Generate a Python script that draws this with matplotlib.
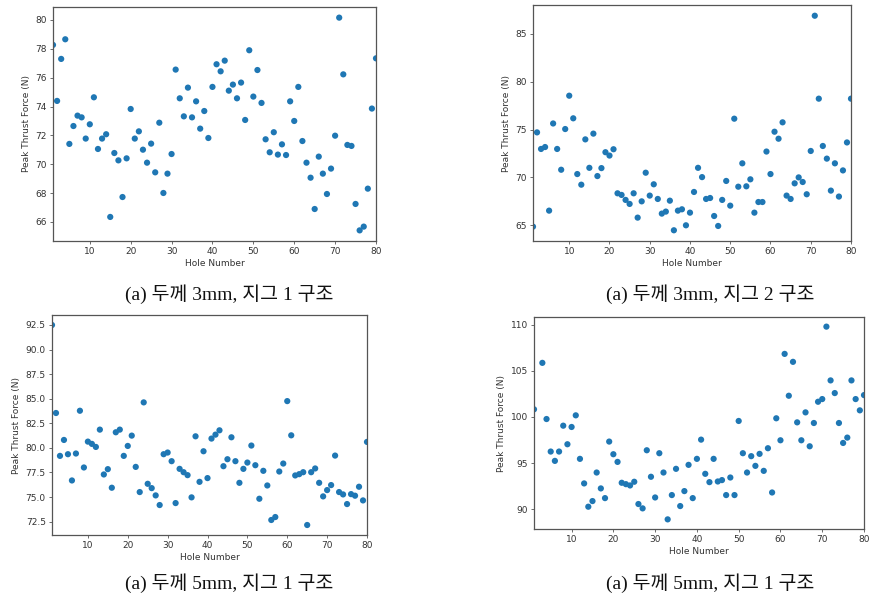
import numpy as np
import matplotlib
matplotlib.use("Agg")
import matplotlib.pyplot as plt

# ---------------- data ----------------
holes = list(range(1, 81))

force_3mm_jig1 = [
    78.27, 74.39, 77.30, 78.66, 71.41, 72.65, 73.37, 73.25, 71.78, 72.77,
    74.64, 71.06, 71.78, 72.08, 66.35, 70.78, 70.27, 67.73, 70.41, 73.83,
    71.78, 72.28, 71.01, 70.11, 71.43, 69.44, 72.88, 68.01, 69.35, 70.71,
    76.56, 74.57, 73.32, 75.31, 73.25, 74.36, 72.47, 73.69, 71.82, 75.36,
    76.93, 76.44, 77.18, 75.10, 75.52, 74.57, 75.66, 73.07, 77.90, 74.69,
    76.53, 74.25, 71.73, 70.83, 72.22, 70.67, 71.38, 70.64, 74.36, 73.00,
    75.36, 71.61, 70.11, 69.07, 66.90, 70.53, 69.35, 67.94, 69.70, 71.98,
    80.16, 76.23, 71.34, 71.27, 67.25, 65.42, 65.68, 68.31, 73.86, 77.34,
]

force_3mm_jig2 = [
    64.86, 74.70, 72.97, 73.17, 66.53, 75.63, 72.97, 70.80, 75.05, 78.53,
    76.17, 70.35, 69.24, 73.97, 71.00, 74.57, 70.14, 70.97, 72.63, 72.28,
    72.94, 68.34, 68.17, 67.65, 67.23, 68.34, 65.80, 67.50, 70.49, 68.10,
    69.28, 67.75, 66.22, 66.43, 67.57, 64.48, 66.53, 66.67, 65.00, 66.32,
    68.48, 71.00, 70.03, 67.75, 67.85, 65.97, 64.93, 67.65, 69.63, 67.05,
    76.13, 69.03, 71.47, 69.07, 69.80, 66.32, 67.43, 67.43, 72.70, 70.35,
    74.77, 74.04, 75.75, 68.10, 67.75, 69.38, 70.00, 69.52, 68.24, 72.76,
    86.88, 78.22, 73.28, 71.96, 68.62, 71.47, 68.00, 70.73, 73.65, 78.22,
]

force_5mm_jig1_a = [
    92.50, 83.55, 79.19, 80.81, 79.36, 76.69, 79.43, 83.78, 78.01, 80.64,
    80.41, 80.10, 81.86, 77.30, 77.84, 75.95, 81.59, 81.86, 79.19, 80.20,
    81.25, 78.07, 75.51, 84.63, 76.35, 75.91, 75.17, 74.19, 79.36, 79.53,
    78.65, 74.39, 77.87, 77.53, 77.23, 74.97, 81.18, 76.55, 79.66, 76.93,
    80.95, 81.35, 81.79, 78.14, 78.85, 81.08, 78.65, 76.45, 77.87, 78.51,
    80.24, 78.24, 74.83, 77.67, 76.18, 72.67, 72.97, 77.60, 78.41, 84.76,
    81.28, 77.20, 77.33, 77.53, 72.16, 77.53, 77.91, 76.45, 75.07, 75.71,
    76.22, 79.22, 75.51, 75.27, 74.29, 75.30, 75.14, 76.05, 74.66, 80.61,
]

force_5mm_jig1_b = [
    100.83, np.nan, 105.86, 99.78, 96.26, 95.25, 96.26, 99.06, 97.05, 98.92,
    100.18, 95.47, 92.81, 90.29, 90.90, 93.99, 92.27, 91.22, 97.34, 95.97,
    95.14, 92.88, 92.73, 92.59, 92.99, 90.58, 90.11, 96.40, 93.53, 91.29,
    96.08, 93.99, 88.92, 91.55, 94.39, 90.36, 91.98, 94.82, 91.22, 95.47,
    97.55, 93.85, 92.95, 95.47, 93.02, 93.17, 91.55, 93.45, 91.55, 99.57,
    96.08, 93.99, 95.76, 94.71, 96.01, 94.17, 96.62, 91.83, 99.86, 97.48,
    106.83, 102.30, 105.97, 99.42, 97.48, 100.50, 96.83, 99.35, 101.65, 101.94,
    109.78, 103.96, 102.59, 99.35, 97.19, 97.77, 103.96, 101.94, 100.72, 102.37,
]

x_ticks = [10, 20, 30, 40, 50, 60, 70, 80]
y_ticks_1 = [66, 68, 70, 72, 74, 76, 78, 80]
y_ticks_2 = [65, 70, 75, 80, 85]
y_ticks_3 = [72.5, 75.0, 77.5, 80.0, 82.5, 85.0, 87.5, 90.0, 92.5]
y_ticks_4 = [90, 95, 100, 105, 110]

captions = [
    "(a) 두께 3mm, 지그 1 구조",
    "(a) 두께 3mm, 지그 2 구조",
    "(a) 두께 5mm, 지그 1 구조",
    "(a) 두께 5mm, 지그 1 구조",
]

x_label = "Hole Number"
y_label = "Peak Thrust Force (N)"

# ---------------- figure ----------------
W, H = 880, 600
fig = plt.figure(figsize=(W / 100, H / 100), dpi=100)

# axes boxes in pixels: left, right, top, bottom
boxes = [
    (53, 376, 7, 241),
    (533, 851, 5, 241),
    (52, 367, 315, 535),
    (534, 864, 317, 529),
]
series = [force_3mm_jig1, force_3mm_jig2, force_5mm_jig1_a, force_5mm_jig1_b]
yticks_all = [y_ticks_1, y_ticks_2, y_ticks_3, y_ticks_4]
yfmt = ["{:g}", "{:g}", "{:.1f}", "{:g}"]

spine_col = "#555555"
for (l, r, t, b), ys, yt, fmt in zip(boxes, series, yticks_all, yfmt):
    ax = fig.add_axes([l / W, 1 - b / H, (r - l) / W, (b - t) / H])
    ax.scatter(holes, ys, s=20, color="#1f77b4", edgecolors="none")
    ax.set_xlim(1, 80)
    ax.set_xticks(x_ticks)
    ax.set_yticks(yt)
    ax.set_yticklabels([fmt.format(v) for v in yt])
    ax.tick_params(labelsize=6.5, length=2.5, width=0.6, pad=2,
                   colors=spine_col, labelcolor="#333333")
    for sp in ax.spines.values():
        sp.set_color(spine_col)
        sp.set_linewidth(0.9)
    ax.set_xlabel(x_label, fontsize=6.5, color="#333333", labelpad=2)
    ax.set_ylabel(y_label, fontsize=6.5, color="#333333", labelpad=3)

cap_font = ["Liberation Serif", "Noto Sans CJK KR"]
cap_pos = [(229, 294), (710, 294), (229, 583), (710, 583)]
for txt, (cx, cy) in zip(captions, cap_pos):
    fig.text(cx / W, 1 - cy / H, txt, ha="center", va="center",
             fontsize=14, family=cap_font, color="#111111")

fig.savefig("out.png", dpi=100, facecolor="white")
